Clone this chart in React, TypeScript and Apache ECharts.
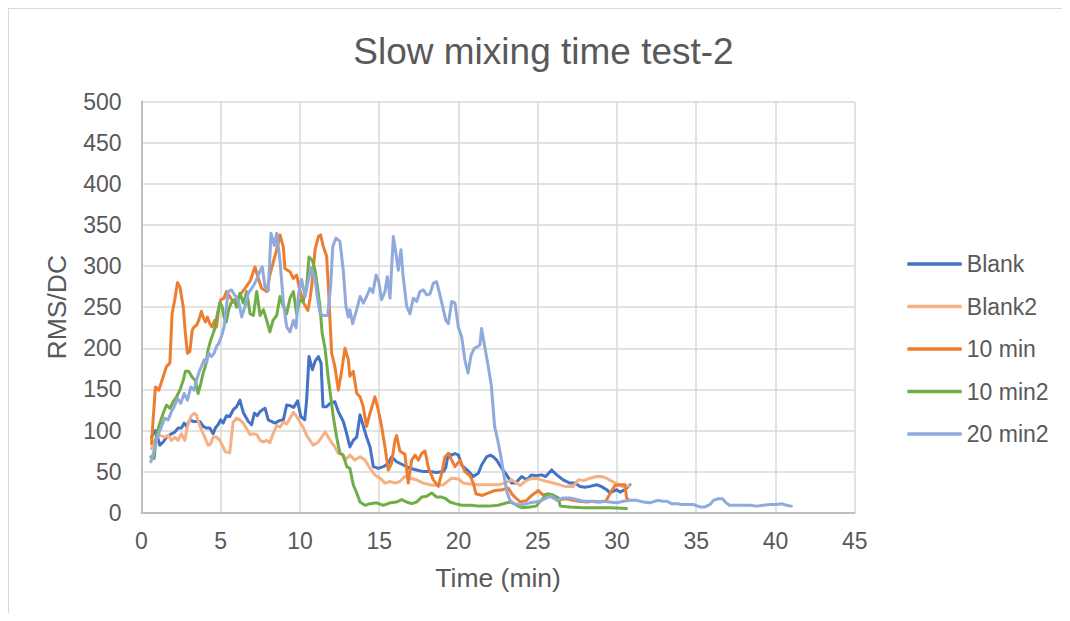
import React, { useEffect, useRef } from "react";
import * as echarts from "echarts";

const chartTitle = "Slow mixing time test-2";
const xAxisTitle = "Time (min)";
const yAxisTitle = "RMS/DC";
const seriesNames = ["Blank", "Blank2", "10 min", "10 min2", "20 min2"];
const seriesColors = ["#4472C4", "#F4B183", "#ED7D31", "#70AD47", "#8FAADC"];

const blank: [number, number][] = [
  [0.63, 92], [0.88, 100], [1.16, 82], [1.37, 86], [1.58, 92], [1.89, 96], [2.1, 98], [2.31, 103], [2.52, 103], [2.69, 109],
  [2.84, 105], [3.05, 113], [3.26, 111], [3.47, 111], [3.68, 111], [3.89, 105], [4.1, 103], [4.31, 103], [4.52, 96], [4.66, 103],
  [4.83, 107], [5.0, 113], [5.15, 109], [5.36, 118], [5.57, 117], [5.78, 125], [6.0, 129], [6.21, 137], [6.42, 122], [6.74, 111],
  [6.95, 107], [7.12, 121], [7.3, 118], [7.48, 123], [7.69, 126], [7.8, 127], [8.0, 113], [8.2, 111], [8.42, 109], [8.7, 112],
  [8.95, 113], [9.16, 131], [9.4, 130], [9.6, 128], [9.85, 136], [10.05, 117], [10.3, 113], [10.42, 137], [10.57, 190], [10.78, 174],
  [10.95, 184], [11.16, 190], [11.33, 182], [11.45, 129], [11.68, 129], [11.9, 133], [12.2, 135], [12.42, 123], [12.73, 111], [12.95, 96],
  [13.15, 80], [13.36, 88], [13.58, 92], [13.79, 119], [14.0, 105], [14.2, 92], [14.42, 80], [14.63, 56], [14.94, 54], [15.26, 56],
  [15.57, 60], [15.78, 68], [16.1, 62], [16.52, 58], [16.94, 54], [17.36, 52], [17.78, 50], [18.2, 50], [18.62, 49], [19.04, 50],
  [19.2, 55], [19.36, 72], [19.57, 70], [19.78, 72], [20.0, 70], [20.2, 58], [20.6, 51], [20.93, 44], [21.25, 48], [21.46, 58],
  [21.78, 68], [22.0, 70], [22.2, 68], [22.41, 64], [22.73, 54], [23.04, 46], [23.36, 36], [23.6, 36], [23.99, 44], [24.3, 40],
  [24.62, 46], [24.9, 45], [25.25, 46], [25.5, 44], [25.88, 52], [26.2, 46], [26.6, 40], [27.03, 36], [27.35, 36], [27.67, 32],
  [28.0, 31], [28.3, 32], [28.72, 34], [29.0, 32], [29.35, 28], [29.56, 24], [29.98, 28], [30.2, 25], [30.5, 28], [30.82, 34],
];

const blank2: [number, number][] = [
  [0.63, 78], [0.84, 88], [1.16, 94], [1.47, 92], [1.68, 94], [1.89, 88], [2.1, 92], [2.31, 88], [2.52, 96], [2.73, 88],
  [2.9, 105], [3.11, 117], [3.32, 121], [3.47, 119], [3.61, 109], [3.78, 101], [3.99, 92], [4.2, 82], [4.37, 84], [4.52, 92],
  [4.73, 92], [4.94, 88], [5.15, 80], [5.29, 74], [5.57, 73], [5.78, 110], [6.0, 115], [6.21, 113], [6.42, 109], [6.63, 102],
  [6.85, 95], [7.06, 96], [7.27, 95], [7.48, 88], [7.69, 86], [7.9, 88], [8.1, 85], [8.3, 96], [8.53, 106], [8.74, 104],
  [8.95, 110], [9.16, 108], [9.37, 115], [9.58, 122], [9.79, 117], [10.0, 110], [10.2, 104], [10.42, 94], [10.63, 88], [10.84, 82],
  [11.16, 86], [11.47, 95], [11.6, 98], [11.9, 88], [12.2, 80], [12.42, 72], [12.63, 72], [12.84, 64], [13.15, 70], [13.47, 64],
  [13.79, 68], [14.1, 64], [14.42, 54], [14.73, 46], [15.05, 42], [15.36, 36], [15.68, 38], [16.0, 36], [16.3, 38], [16.62, 44],
  [16.94, 42], [17.36, 40], [17.78, 36], [18.2, 34], [18.62, 33], [19.04, 34], [19.57, 42], [20.0, 41], [20.3, 36], [20.7, 35],
  [21.25, 34], [21.8, 34], [22.5, 34], [22.93, 36], [23.36, 40], [23.6, 37], [23.88, 33], [24.2, 38], [24.5, 41], [24.93, 42],
  [25.35, 39], [25.8, 37], [26.2, 35], [26.7, 32], [27.24, 32], [27.56, 40], [27.9, 39], [28.3, 42], [28.72, 44], [29.0, 44],
  [29.35, 42], [29.6, 39], [30.0, 35], [30.3, 32], [30.6, 32], [30.75, 33],
];

const tenMin: [number, number][] = [
  [0.63, 84], [0.88, 153], [1.09, 149], [1.26, 159], [1.58, 178], [1.79, 182], [1.93, 242], [2.1, 259], [2.27, 280], [2.42, 275],
  [2.63, 251], [2.77, 218], [2.9, 194], [3.05, 196], [3.2, 222], [3.32, 226], [3.47, 228], [3.61, 234], [3.78, 245], [3.89, 238],
  [4.03, 232], [4.16, 238], [4.31, 230], [4.45, 226], [4.62, 234], [4.73, 226], [4.87, 247], [5.0, 259], [5.2, 261], [5.36, 269],
  [5.57, 263], [5.79, 256], [6.1, 262], [6.53, 273], [6.86, 282], [7.16, 299], [7.37, 285], [7.58, 273], [7.9, 269], [8.1, 289],
  [8.32, 305], [8.53, 320], [8.74, 338], [8.95, 323], [9.05, 297], [9.37, 293], [9.58, 285], [9.79, 289], [10.0, 270], [10.2, 256],
  [10.5, 246], [10.63, 260], [10.74, 276], [10.84, 296], [10.95, 320], [11.16, 336], [11.3, 338], [11.47, 324], [11.68, 312], [11.79, 276],
  [11.9, 231], [12.0, 194], [12.2, 178], [12.42, 149], [12.63, 173], [12.84, 200], [13.05, 186], [13.15, 166], [13.36, 172], [13.58, 145],
  [13.79, 141], [13.99, 129], [14.2, 105], [14.42, 121], [14.73, 141], [14.94, 125], [15.15, 105], [15.36, 80], [15.57, 52], [15.78, 60],
  [15.99, 88], [16.1, 94], [16.3, 75], [16.62, 71], [16.83, 36], [17.05, 64], [17.26, 70], [17.47, 64], [17.68, 72], [17.89, 75],
  [18.1, 55], [18.41, 40], [18.73, 32], [18.94, 48], [19.15, 68], [19.36, 72], [19.57, 64], [19.78, 56], [20.1, 64], [20.4, 50],
  [20.73, 45], [20.95, 35], [21.1, 23], [21.5, 21], [21.9, 24], [22.3, 27], [22.8, 28], [23.14, 30], [23.4, 22], [23.67, 17],
  [23.9, 13], [24.3, 15], [24.62, 21], [25.04, 27], [25.3, 22], [25.67, 22], [25.98, 18], [26.4, 16], [26.8, 17], [27.24, 15],
  [27.6, 14], [28.09, 13], [28.5, 14], [28.93, 13], [29.3, 14], [29.67, 27], [29.87, 33], [30.2, 34], [30.5, 34], [30.61, 18],
  [30.7, 16],
];

const tenMin2: [number, number][] = [
  [0.59, 68], [0.8, 66], [0.95, 96], [1.16, 109], [1.37, 121], [1.58, 131], [1.79, 127], [2.0, 135], [2.21, 141], [2.42, 149],
  [2.63, 161], [2.77, 172], [2.98, 172], [3.19, 165], [3.4, 161], [3.57, 145], [3.74, 157], [3.89, 170], [4.03, 178], [4.2, 198],
  [4.37, 210], [4.52, 218], [4.62, 224], [4.79, 242], [4.94, 255], [5.08, 251], [5.21, 238], [5.35, 232], [5.5, 247], [5.65, 255],
  [5.85, 259], [6.0, 250], [6.21, 267], [6.42, 255], [6.64, 269], [6.85, 242], [7.06, 240], [7.27, 269], [7.48, 240], [7.69, 247],
  [7.9, 234], [8.1, 220], [8.3, 234], [8.53, 240], [8.74, 263], [8.95, 251], [9.16, 242], [9.37, 261], [9.58, 269], [9.79, 242],
  [10.0, 259], [10.2, 257], [10.42, 275], [10.57, 311], [10.78, 307], [10.95, 295], [11.1, 275], [11.26, 251], [11.4, 218], [11.58, 200],
  [11.79, 163], [11.94, 141], [12.1, 117], [12.31, 92], [12.52, 72], [12.73, 70], [12.95, 56], [13.15, 54], [13.36, 34], [13.58, 24],
  [13.79, 13], [14.1, 9], [14.42, 11], [14.84, 12], [15.26, 9], [15.68, 12], [16.1, 13], [16.42, 16], [16.73, 13], [17.05, 11],
  [17.36, 13], [17.68, 19], [17.99, 20], [18.31, 24], [18.62, 19], [18.94, 19], [19.2, 17], [19.46, 13], [19.78, 11], [20.2, 9],
  [20.8, 9], [21.3, 8], [21.9, 8], [22.5, 9], [23.04, 12], [23.3, 13], [23.67, 9], [24.0, 6], [24.5, 7], [24.9, 8],
  [25.35, 18], [25.6, 23], [25.9, 22], [26.3, 18], [26.42, 8], [27.03, 7], [27.87, 6], [28.7, 6], [29.56, 6], [30.6, 5],
];

const twentyMin2: [number, number][] = [
  [0.59, 62], [0.8, 76], [1.0, 92], [1.26, 105], [1.47, 115], [1.68, 113], [1.89, 123], [2.06, 129], [2.27, 139], [2.48, 133],
  [2.69, 145], [2.9, 137], [3.11, 153], [3.32, 149], [3.47, 161], [3.61, 170], [3.78, 178], [3.95, 186], [4.1, 182], [4.24, 194],
  [4.41, 190], [4.58, 194], [4.73, 202], [4.87, 206], [5.04, 214], [5.21, 226], [5.36, 251], [5.46, 269], [5.67, 271], [5.84, 266],
  [6.0, 262], [6.15, 255], [6.32, 238], [6.53, 251], [6.74, 267], [7.06, 276], [7.27, 284], [7.48, 294], [7.62, 299], [7.79, 275],
  [8.0, 270], [8.17, 340], [8.38, 325], [8.53, 340], [8.74, 306], [8.95, 256], [9.16, 226], [9.37, 220], [9.58, 234], [9.75, 225],
  [9.9, 265], [10.1, 284], [10.32, 263], [10.5, 280], [10.7, 298], [10.95, 283], [11.1, 262], [11.26, 243], [11.47, 240], [11.75, 240],
  [11.94, 278], [12.07, 324], [12.27, 334], [12.52, 330], [12.73, 295], [12.9, 251], [13.05, 238], [13.15, 247], [13.32, 230], [13.58, 247],
  [13.79, 263], [14.0, 255], [14.2, 263], [14.42, 273], [14.6, 268], [14.8, 289], [14.95, 283], [15.15, 259], [15.36, 269], [15.51, 287],
  [15.68, 261], [15.89, 336], [16.05, 316], [16.2, 295], [16.37, 320], [16.5, 289], [16.73, 251], [16.94, 242], [17.15, 261], [17.36, 257],
  [17.57, 269], [17.78, 271], [17.99, 265], [18.2, 266], [18.41, 279], [18.62, 281], [18.83, 265], [19.0, 251], [19.2, 234], [19.36, 230],
  [19.57, 257], [19.78, 255], [19.99, 226], [20.2, 214], [20.4, 186], [20.6, 170], [20.8, 192], [21.0, 200], [21.21, 202], [21.35, 204],
  [21.46, 224], [21.64, 204], [21.86, 180], [22.07, 155], [22.28, 105], [22.48, 88], [22.68, 68], [22.88, 44], [23.06, 25], [23.25, 15],
  [23.5, 11], [23.9, 9], [24.5, 12], [25.14, 14], [25.56, 18], [25.88, 20], [26.2, 15], [26.6, 18], [27.03, 18], [27.45, 16],
  [27.87, 14], [28.3, 14], [28.72, 13], [29.14, 14], [29.55, 13], [29.98, 12], [30.4, 14], [30.82, 15], [31.24, 15], [31.66, 13],
  [32.08, 12], [32.4, 14], [32.6, 15], [32.9, 14], [33.13, 14], [33.45, 11], [33.8, 11], [34.08, 10], [34.5, 10], [34.81, 10],
  [35.24, 7], [35.55, 7], [35.87, 10], [36.08, 15], [36.39, 17], [36.66, 17], [36.88, 12], [37.1, 9], [37.55, 9], [38.0, 9],
  [38.39, 9], [38.8, 8], [39.23, 9], [39.65, 10], [40.08, 10], [40.4, 11], [40.7, 9], [41.0, 8],
];

const seriesData = [blank, blank2, tenMin, tenMin2, twentyMin2];

const FONT = "'Liberation Sans', Arial, sans-serif";
const TEXT = "#595959";

export default function App() {
  const ref = useRef<HTMLDivElement>(null);

  useEffect(() => {
    if (!ref.current) return;
    const chart = echarts.init(ref.current, undefined, { renderer: "svg" });
    chart.setOption({
      animation: false,
      backgroundColor: "#ffffff",
      textStyle: { fontFamily: FONT, color: TEXT },
      graphic: [
        {
          type: "text",
          x: 534.5,
          y: 24,
          style: {
            text: chartTitle,
            align: "center",
            verticalAlign: "top",
            fontSize: 37,
            fontFamily: FONT,
            fill: TEXT,
          },
        },
      ],
      grid: { left: 132.5, top: 92.7, width: 713.2, height: 411, containLabel: false },
      legend: {
        orient: "vertical",
        left: 898.3,
        top: 243,
        padding: 0,
        icon: "roundRect",
        itemWidth: 54.5,
        itemHeight: 3.5,
        itemGap: 18.5,
        data: seriesNames,
        textStyle: { fontSize: 23, fontFamily: FONT, color: TEXT, lineHeight: 24 },
      },
      xAxis: {
        type: "value",
        min: 0,
        max: 45,
        interval: 5,
        name: xAxisTitle,
        nameLocation: "middle",
        nameGap: 52,
        nameTextStyle: { fontSize: 26.5, fontFamily: FONT, color: TEXT },
        axisLine: { show: true, lineStyle: { color: "#BFBFBF", width: 2 } },
        axisTick: { show: false },
        axisLabel: { fontSize: 23, color: TEXT, fontFamily: FONT, margin: 17 },
        splitLine: { show: true, lineStyle: { color: "#D9D9D9", width: 1.5 } },
      },
      yAxis: {
        type: "value",
        min: 0,
        max: 500,
        interval: 50,
        name: yAxisTitle,
        nameLocation: "middle",
        nameRotate: 90,
        nameGap: 71,
        nameTextStyle: { fontSize: 26.5, fontFamily: FONT, color: TEXT },
        axisLine: { show: true, lineStyle: { color: "#BFBFBF", width: 2 } },
        axisTick: { show: false },
        axisLabel: { fontSize: 23, color: TEXT, fontFamily: FONT, margin: 20 },
        splitLine: { show: true, lineStyle: { color: "#D9D9D9", width: 1.5 } },
      },
      series: seriesNames.map((name, i) => ({
        name,
        type: "line",
        data: seriesData[i],
        symbol: "none",
        showSymbol: false,
        smooth: false,
        color: seriesColors[i],
        itemStyle: { color: seriesColors[i] },
        lineStyle: { width: 3, color: seriesColors[i], cap: "round", join: "round" },
        emphasis: { disabled: true },
      })),
    });
    return () => chart.dispose();
  }, []);

  return (
    <div
      ref={ref}
      style={{
        width: 1054,
        height: 605,
        boxSizing: "border-box",
        borderTop: "1px solid #D9D9D9",
        borderLeft: "1px solid #D9D9D9",
      }}
    />
  );
}
